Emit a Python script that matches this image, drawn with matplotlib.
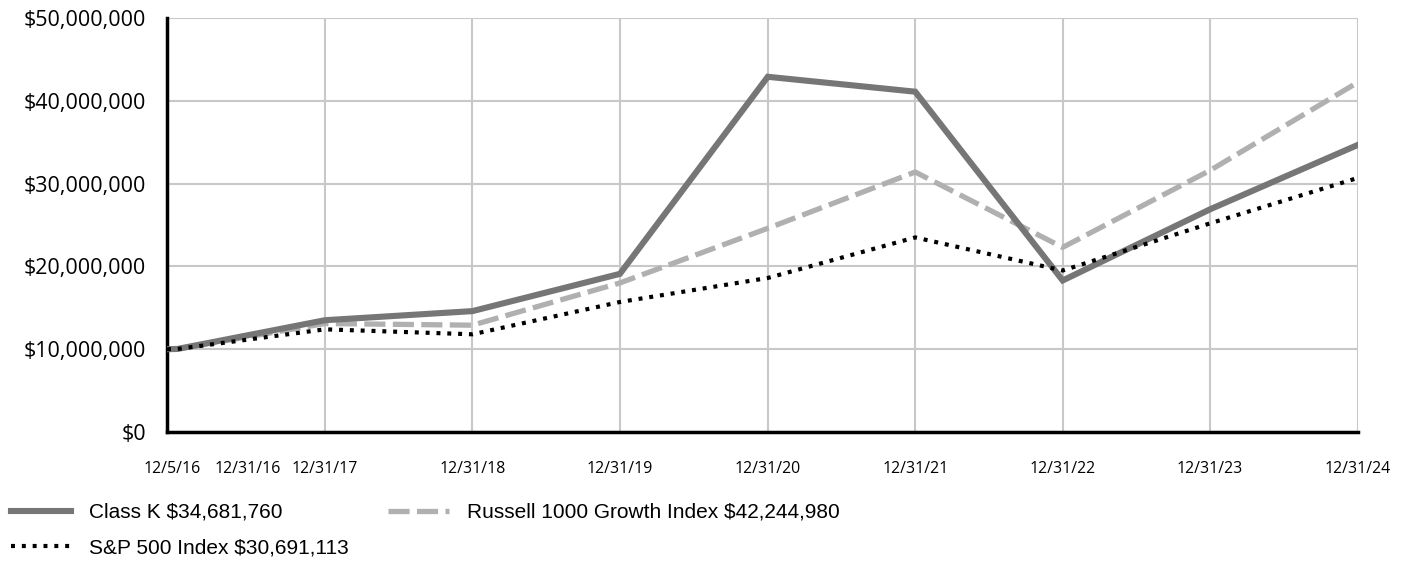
import numpy as np
import matplotlib
matplotlib.use('Agg')
from matplotlib import pyplot as plt
from datetime import date

# dates of the data points
dates = [date(2016, 12, 5), date(2016, 12, 31), date(2017, 12, 31), date(2018, 12, 31),
         date(2019, 12, 31), date(2020, 12, 31), date(2021, 12, 31), date(2022, 12, 31),
         date(2023, 12, 31), date(2024, 12, 31)]
date_labels = ['12/5/16', '12/31/16', '12/31/17', '12/31/18', '12/31/19',
               '12/31/20', '12/31/21', '12/31/22', '12/31/23', '12/31/24']

# values in dollars
class_k = [10000000, 10030000, 13500000, 14600000, 19100000,
           42900000, 41100000, 18300000, 26900000, 34681760]
russell = [10000000, 10030000, 13100000, 12900000, 18000000,
           24600000, 31400000, 22300000, 31600000, 42244980]
sp500 = [10000000, 10030000, 12400000, 11800000, 15700000,
         18600000, 23500000, 19500000, 25200000, 30691113]

names = ['Class K $34,681,760', 'Russell 1000 Growth Index $42,244,980',
         'S&P 500 Index $30,691,113']

# x as days since start
x = np.array([(d - dates[0]).days for d in dates])

fig = plt.figure(figsize=(14.06, 5.61), dpi=100)
ax = fig.add_axes([167/1406, 1-432/561, (1358-167)/1406, (432-18)/561])

l1, = ax.plot(x, class_k, color='#767676', lw=4.4, solid_joinstyle='miter', zorder=4)
l2, = ax.plot(x, russell, color='#b0b0b0', lw=3.8, dashes=(4.0, 1.4), zorder=3)
l3, = ax.plot(x, sp500, color='black', lw=3.0, dashes=(0.95, 1.65), zorder=5)

ax.set_xlim(x[0], x[-1])
ax.set_ylim(0, 50000000)
ax.set_yticks(np.arange(0, 50000001, 10000000))
ax.set_yticklabels(['$' + format(int(v), ',') for v in ax.get_yticks()],
                   fontsize=15.5, family='Open Sans')

# vertical grid at year ends only, labels spread at the start
for xv in x[2:]:
    ax.axvline(xv, color='#c8c8c8', lw=1.5, zorder=1)
ax.yaxis.grid(True, color='#c8c8c8', lw=1.5, zorder=1)
ax.set_axisbelow(True)

label_pos = list(x)
label_pos[0] = x[0] + 12
label_pos[1] = (x[0] + x[2]) / 2 + 4
ax.set_xticks(label_pos)
ax.set_xticklabels(date_labels, fontsize=11.4, family='Open Sans')
ax.tick_params(axis='y', length=0, pad=15)
ax.tick_params(axis='x', length=0, pad=21)

for s in ['top', 'right']:
    ax.spines[s].set_visible(False)
for s in ['left', 'bottom']:
    ax.spines[s].set_linewidth(2.5)
    ax.spines[s].set_color('black')

leg = fig.legend([l1, l3, l2], [names[0], names[2], names[1]], loc='upper left',
                 bbox_to_anchor=(11/1406, 1-503/561), borderpad=0, borderaxespad=0,
                 ncol=2, frameon=False, handlelength=2.9, handletextpad=0.85,
                 columnspacing=1.9, labelspacing=0.8,
                 prop={'family': 'Liberation Sans', 'size': 15})

fig.savefig('out.png', dpi=100)
